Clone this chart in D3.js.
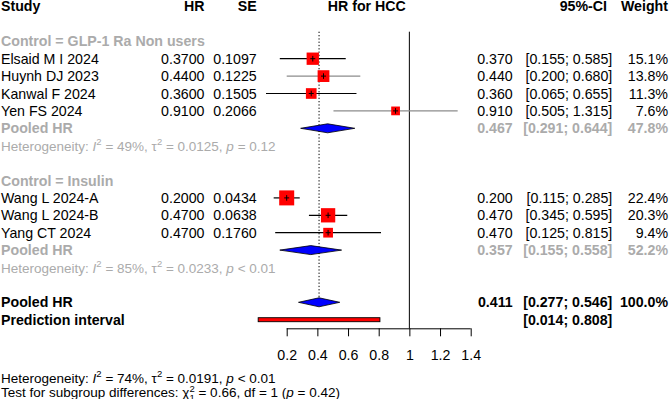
<!DOCTYPE html>
<html>
<head>
<meta charset="utf-8">
<script src="https://cdn.jsdelivr.net/npm/d3@7"></script>
<style>
  body { margin: 0; background: #fff; }
  text { font-family: "Liberation Sans", Arial, sans-serif; font-size: 14.2px; }
  text.stat { font-size: 13.5px; }
</style>
</head>
<body>
<div id="chart"></div>
<script>
// data
const subgroupLabels = ["Control = GLP-1 Ra Non users", "Control = Insulin"];
const studyNames = ["Elsaid M I 2024", "Huynh DJ 2023", "Kanwal F 2024", "Yen FS 2024",
  "Wang L 2024-A", "Wang L 2024-B", "Yang CT 2024"];
const studyGroup = [0, 0, 0, 0, 1, 1, 1];
const studyHR = [0.37, 0.44, 0.36, 0.91, 0.20, 0.47, 0.47];
const studySE = [0.1097, 0.1225, 0.1505, 0.2066, 0.0434, 0.0638, 0.1760];
const studyLower = [0.155, 0.200, 0.065, 0.505, 0.115, 0.345, 0.125];
const studyUpper = [0.585, 0.680, 0.655, 1.315, 0.285, 0.595, 0.815];
const studyWeight = [15.1, 13.8, 11.3, 7.6, 22.4, 20.3, 9.4];

const pooledHR = [0.467, 0.357];
const pooledLower = [0.291, 0.155];
const pooledUpper = [0.644, 0.558];
const pooledWeight = [47.8, 52.2];
const hetI2 = ["49%", "85%"];
const hetTau2 = ["0.0125", "0.0233"];
const hetP = ["= 0.12", "< 0.01"];

const overallHR = 0.411;
const overallCI = [0.277, 0.546];
const overallWeight = 100;
const predictionCI = [0.014, 0.808];
const overallI2 = "74%";
const overallTau2 = "0.0191";
const overallP = "< 0.01";
const testChi2 = "0.66";
const testDf = "1";
const testP = "0.42";

const xTicks = [0.2, 0.4, 0.6, 0.8, 1, 1.2, 1.4];

// styles kept apart from the data
const ciLineColors = ["#000", "#8c8c8c", "#000", "#8c8c8c", "#000", "#000", "#000"];
const grey = "#ababab";

const width = 669, height = 399;
const svg = d3.select("#chart").append("svg")
  .attr("width", width)
  .attr("height", height);

const x = d3.scaleLinear().domain([0.2, 1.4]).range([286.7, 470.7]);
// row centres
const row = d3.scaleLinear().domain([0, 18]).range([6.5, 319.7]);
const size = d3.scaleSqrt().domain([0, 22.4]).range([0, 15]);

const col = { study: 1, hr: 204.5, se: 256.7, est: 512.7, ci: 612.3, w: 668 };
const f4 = d3.format(".4f"), f3 = d3.format(".3f"), f1 = d3.format(".1f");
const fmtTick = d => d3.format("~g")(d);

function txt(xp, yp, s, opts = {}) {
  return svg.append("text")
    .attr("x", xp).attr("y", yp)
    .attr("text-anchor", opts.anchor || "start")
    .attr("font-weight", opts.bold ? "bold" : null)
    .attr("fill", opts.color || "#000")
    .text(s);
}

// text with italic / super / subscript pieces
function richText(xp, yp, parts, color) {
  const t = svg.append("text").attr("class", "stat")
    .attr("x", xp).attr("y", yp).attr("fill", color || "#000");
  let shift = 0;
  parts.forEach(p => {
    const span = t.append("tspan").text(p.t);
    let target = 0;
    if (p.sup) target = -5.5;
    if (p.sub) target = 4;
    if (p.sup || p.sub) span.style("font-size", "9.5px");
    if (target - shift !== 0) span.attr("dy", target - shift);
    if (p.dx) span.attr("dx", p.dx);
    if (p.it) span.style("font-style", "italic");
    shift = target;
  });
  return t;
}

const base = k => row(k) + 5;
const headY = 11.4;

// header
txt(col.study, headY, "Study", { bold: true });
txt(col.hr, headY, "HR", { bold: true, anchor: "end" });
txt(col.se, headY, "SE", { bold: true, anchor: "end" });
txt(366.8, headY, "HR for HCC", { bold: true, anchor: "middle" });
txt(607, headY, "95%-CI", { bold: true, anchor: "end" });
txt(col.w, headY, "Weight", { bold: true, anchor: "end" });

// reference lines
const plotTop = 31.7, axisY = 328.3;
svg.append("line")
  .attr("x1", x(1)).attr("x2", x(1))
  .attr("y1", plotTop).attr("y2", axisY)
  .attr("stroke", "#000").attr("stroke-width", 1);
svg.append("line")
  .attr("x1", x(overallHR)).attr("x2", x(overallHR))
  .attr("y1", plotTop).attr("y2", row(17) - 4.5)
  .attr("stroke", "#000").attr("stroke-width", 1)
  .attr("stroke-dasharray", "1.3,2");

function diamond(k, est, lo, hi) {
  const cy = row(k), h = 4.5;
  svg.append("path")
    .attr("d", `M${x(lo)},${cy}L${x(est)},${cy - h}L${x(hi)},${cy}L${x(est)},${cy + h}Z`)
    .attr("fill", "#0000ff")
    .attr("stroke", "#000")
    .attr("stroke-width", 0.8);
}

// subgroups
let k = 2;
subgroupLabels.forEach((label, g) => {
  txt(col.study, base(k), label, { bold: true, color: grey });
  k++;
  studyNames.forEach((name, i) => {
    if (studyGroup[i] !== g) return;
    const cy = row(k);
    txt(col.study, base(k), name);
    txt(col.hr, base(k), f4(studyHR[i]), { anchor: "end" });
    txt(col.se, base(k), f4(studySE[i]), { anchor: "end" });

    svg.append("line")
      .attr("x1", x(studyLower[i])).attr("x2", x(studyUpper[i]))
      .attr("y1", cy).attr("y2", cy)
      .attr("stroke", ciLineColors[i]).attr("stroke-width", 1.2);
    const s = size(studyWeight[i]);
    svg.append("rect")
      .attr("x", x(studyHR[i]) - s / 2).attr("y", cy - s / 2)
      .attr("width", s).attr("height", s)
      .attr("fill", "#ff0000");
    svg.append("path")
      .attr("d", `M${x(studyHR[i]) - 2.5},${cy}H${x(studyHR[i]) + 2.5}M${x(studyHR[i])},${cy - 2.8}V${cy + 2.8}`)
      .attr("stroke", "#000").attr("stroke-width", 1);

    txt(col.est, base(k), f3(studyHR[i]), { anchor: "end" });
    txt(col.ci, base(k), `[${f3(studyLower[i])}; ${f3(studyUpper[i])}]`, { anchor: "end" });
    txt(col.w, base(k), f1(studyWeight[i]) + "%", { anchor: "end" });
    k++;
  });

  // pooled for subgroup
  txt(col.study, base(k), "Pooled HR", { bold: true, color: grey });
  diamond(k, pooledHR[g], pooledLower[g], pooledUpper[g]);
  txt(col.est, base(k), f3(pooledHR[g]), { bold: true, anchor: "end", color: grey });
  txt(col.ci, base(k), `[${f3(pooledLower[g])}; ${f3(pooledUpper[g])}]`, { bold: true, anchor: "end", color: grey });
  txt(col.w, base(k), f1(pooledWeight[g]) + "%", { bold: true, anchor: "end", color: grey });
  k++;
  richText(col.study, base(k), [
    { t: "Heterogeneity: " }, { t: "I", it: true }, { t: "2", sup: true },
    { t: ` = ${hetI2[g]}, τ` }, { t: "2", sup: true },
    { t: ` = ${hetTau2[g]}, ` }, { t: "p", it: true }, { t: ` ${hetP[g]}` }
  ], grey);
  k += 2;
});

// overall
txt(col.study, base(17), "Pooled HR", { bold: true });
diamond(17, overallHR, overallCI[0], overallCI[1]);
txt(col.est, base(17), f3(overallHR), { bold: true, anchor: "end" });
txt(col.ci, base(17), `[${f3(overallCI[0])}; ${f3(overallCI[1])}]`, { bold: true, anchor: "end" });
txt(col.w, base(17), f1(overallWeight) + "%", { bold: true, anchor: "end" });

txt(col.study, base(18), "Prediction interval", { bold: true });
svg.append("rect")
  .attr("x", x(predictionCI[0])).attr("y", row(18) - 2)
  .attr("width", x(predictionCI[1]) - x(predictionCI[0])).attr("height", 4)
  .attr("fill", "#ff0000").attr("stroke", "#000").attr("stroke-width", 0.9);
txt(col.ci, base(18), `[${f3(predictionCI[0])}; ${f3(predictionCI[1])}]`, { bold: true, anchor: "end" });

// x axis
const axis = svg.append("g")
  .attr("transform", `translate(0,${axisY})`)
  .call(d3.axisBottom(x).tickValues(xTicks).tickFormat(fmtTick).tickSize(8).tickPadding(14));
axis.select(".domain").attr("d", `M${x(0.2)},0.5H${x(1.4)}`).attr("stroke", "#000");
axis.selectAll(".tick line").attr("stroke", "#000");
axis.selectAll("text")
  .attr("fill", "#000")
  .style("font-family", '"Liberation Sans", Arial, sans-serif')
  .style("font-size", "14.2px");

// footer
richText(col.study, 382.5, [
  { t: "Heterogeneity: " }, { t: "I", it: true }, { t: "2", sup: true },
  { t: ` = ${overallI2}, τ` }, { t: "2", sup: true },
  { t: ` = ${overallTau2}, ` }, { t: "p", it: true }, { t: ` ${overallP}` }
]);
richText(col.study, 397, [
  { t: "Test for subgroup differences: χ" }, { t: "2", sup: true },
  { t: testDf, sub: true, dx: -5.3 },
  { t: ` = ${testChi2}, df = ${testDf} (` }, { t: "p", it: true }, { t: ` = ${testP})` }
]);
</script>
</body>
</html>
